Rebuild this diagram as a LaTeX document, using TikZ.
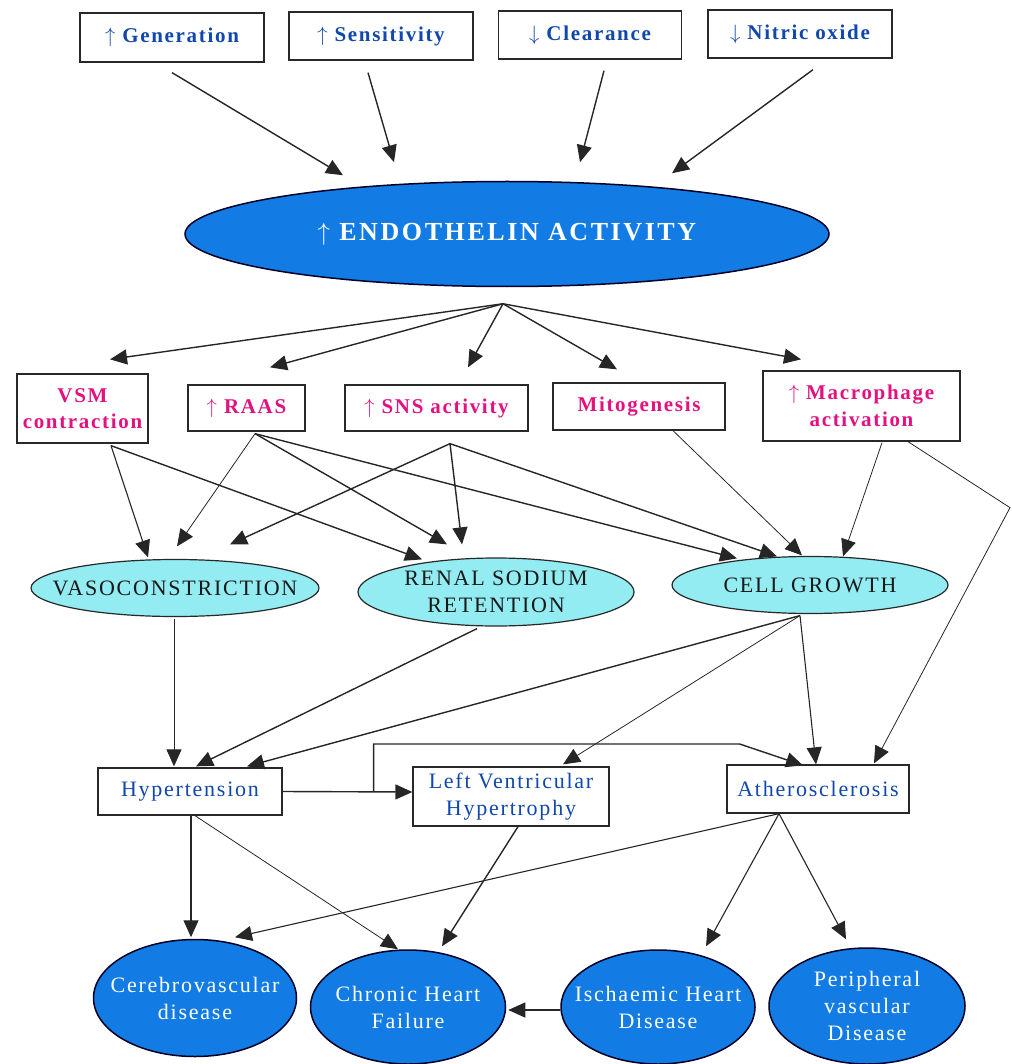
\documentclass[tikz,border=0pt]{standalone}
\usepackage{fontspec}
\setmainfont{Liberation Serif}
\usetikzlibrary{arrows.meta,shapes.geometric}
\definecolor{bluetxt}{RGB}{16,72,172}
\definecolor{pinktxt}{RGB}{226,18,128}
\definecolor{ellblue}{RGB}{18,124,228}
\definecolor{cyanfill}{RGB}{146,236,242}
\definecolor{edge}{RGB}{40,40,40}
\newcommand\myup{\(\uparrow\)}
\newcommand\mydown{\(\downarrow\)}
\begin{document}
\begin{tikzpicture}[x=1pt,y=-1pt,
  box/.style={draw=edge,line width=1.3pt,fill=white,inner sep=0pt,align=center},
  topbox/.style={box,text=bluetxt,font={\fontsize{21}{25}\selectfont\bfseries\addfontfeature{LetterSpace=8}}},
  midbox/.style={box,text=pinktxt,font={\fontsize{21}{26.5}\selectfont\bfseries\addfontfeature{LetterSpace=8}}},
  lowbox/.style={box,text=bluetxt,font={\fontsize{22}{27}\selectfont\addfontfeature{LetterSpace=8}}},
  ellbase/.style={ellipse,inner xsep=-200pt,inner ysep=-60pt,align=center},
  cyanell/.style={ellbase,draw=edge,line width=1.2pt,fill=cyanfill,text=black!90,font={\fontsize{22}{27}\selectfont\addfontfeature{LetterSpace=8}}},
  blueell/.style={ellbase,draw=black!85!blue,line width=1.5pt,fill=ellblue,text=white,font={\fontsize{22}{27}\selectfont\addfontfeature{LetterSpace=8}}},
  arr/.style={-{Triangle[length=17pt,width=15pt]},line width=1.4pt,draw=black!85},
  tarr/.style={arr,line width=0.8pt},
]
\useasboundingbox (0,0) rectangle (1011,1064);

% top boxes
\node[topbox,minimum width=184pt,minimum height=49pt] (gen) at (172,37.5) {\myup\ Generation};
\node[topbox,minimum width=184pt,minimum height=48pt] (sens) at (381,36) {\myup\ Sensitivity};
\node[topbox,minimum width=183pt,minimum height=48pt] (clear) at (590,35) {\mydown\ Clearance};
\node[topbox,minimum width=184pt,minimum height=48pt] (nitric) at (800,34) {\mydown\ Nitric oxide};

% endothelin
\node[blueell,minimum width=644pt,minimum height=105pt,
  font={\fontsize{26}{30}\selectfont\bfseries\addfontfeature{LetterSpace=10}}] (endo) at (507,234) {\myup\ ENDOTHELIN ACTIVITY};

% middle boxes
\node[midbox,minimum width=131pt,minimum height=69pt] (vsm) at (82.5,408.5) {VSM\\contraction};
\node[midbox,minimum width=117pt,minimum height=46pt] (raas) at (246.5,408) {\myup\ RAAS};
\node[midbox,minimum width=183pt,minimum height=46pt] (sns) at (436.5,408) {\myup\ SNS activity};
\node[midbox,minimum width=172pt,minimum height=47pt] (mito) at (639,406.5) {Mitogenesis};
\node[midbox,minimum width=197pt,minimum height=70pt] (macro) at (861.5,406) {\myup\ Macrophage\\activation};

% cyan ellipses
\node[cyanell,minimum width=288pt,minimum height=57pt] (vaso) at (175,588) {VASOCONSTRICTION};
\node[cyanell,minimum width=276pt,minimum height=68pt] (renal) at (496,592) {RENAL SODIUM\\RETENTION};
\node[cyanell,minimum width=276pt,minimum height=57pt] (cell) at (810,585) {CELL GROWTH};

% lower boxes
\node[lowbox,minimum width=184pt,minimum height=47pt] (hyp) at (190,791.5) {Hypertension};
\node[lowbox,minimum width=196pt,minimum height=59pt] (lvh) at (511,796.5) {Left Ventricular\\Hypertrophy};
\node[lowbox,minimum width=182pt,minimum height=48pt] (ather) at (818,789) {Atherosclerosis};

% bottom ellipses
\node[blueell,minimum width=203pt,minimum height=117pt] (cereb) at (195,998) {Cerebrovascular\\disease};
\node[blueell,minimum width=195pt,minimum height=114pt] (chf) at (408,1007) {Chronic Heart\\Failure};
\node[blueell,minimum width=194pt,minimum height=114pt] (isch) at (658,1007) {Ischaemic Heart\\Disease};
\node[blueell,minimum width=196pt,minimum height=116pt] (peri) at (867,1006) {Peripheral\\vascular\\Disease};

% top arrows
\draw[arr] ([yshift=-10pt]gen.south) -- ([xshift=-164pt,yshift=5.5pt]endo.north);
\draw[arr] ([xshift=-13pt,yshift=-12pt]sens.south) -- ([xshift=-113pt,yshift=18.5pt]endo.north);
\draw[arr] ([xshift=14pt,yshift=-11pt]clear.south) -- ([xshift=73pt,yshift=18.5pt]endo.north);
\draw[arr] ([xshift=13pt,yshift=-11pt]nitric.south) -- ([xshift=165pt,yshift=7.5pt]endo.north);

% fan
\coordinate (fan) at ([xshift=-4pt,yshift=-16.5pt]endo.south);
\draw[arr] (fan) -- ([xshift=27.5pt,yshift=14pt]vsm.north);
\draw[arr] (fan) -- ([xshift=23.5pt,yshift=17pt]raas.north);
\draw[arr] (fan) -- ([xshift=31.5pt,yshift=17pt]sns.north);
\draw[arr] (fan) -- ([xshift=-22pt,yshift=13pt]mito.north);
\draw[arr] (fan) -- ([xshift=-60.5pt,yshift=11pt]macro.north);

% middle connectors
\coordinate (vsmo) at ([xshift=28.5pt,yshift=-2pt]vsm.south);
\coordinate (raaso) at ([xshift=8.5pt,yshift=-2pt]raas.south);
\coordinate (snso) at ([xshift=13.5pt,yshift=-12pt]sns.south);
\draw[arr,line width=1.1pt] (vsmo) -- ([xshift=-27pt,yshift=1.5pt]vaso.north);
\draw[arr] (vsmo) -- ([xshift=-74pt,yshift=-2pt]renal.north);
\draw[tarr] (raaso) -- ([xshift=2pt,yshift=12.5pt]vaso.north);
\draw[arr] (raaso) -- ([xshift=-49pt,yshift=13pt]renal.north);
\draw[arr] (raaso) -- ([xshift=-73pt,yshift=-2.5pt]cell.north);
\draw[arr] (snso) -- ([xshift=55pt,yshift=14.5pt]vaso.north);
\draw[arr] (snso) -- ([xshift=-34pt,yshift=13pt]renal.north);
\draw[arr] (snso) -- ([xshift=-33pt,yshift=-0.5pt]cell.north);
\draw[tarr] ([xshift=34pt]mito.south) -- ([xshift=-8pt,yshift=0.5pt]cell.north);
\draw[tarr] ([xshift=20.5pt,yshift=-1pt]macro.south) -- ([xshift=33pt,yshift=-0.5pt]cell.north);
\coordinate (bend) at ([xshift=148.5pt,yshift=-66pt]macro.south);
\draw[tarr] ([xshift=46.5pt]macro.south) -- (bend) -- ([xshift=56pt,yshift=1pt]ather.north);

% to lower boxes
\draw[tarr] ([xshift=-1pt,yshift=-1.5pt]vaso.south) -- ([xshift=-16pt,yshift=1pt]hyp.north);
\draw[arr] ([xshift=-19pt,yshift=-2pt]renal.south) -- ([xshift=6pt,yshift=1pt]hyp.north);
\coordinate (cello) at ([xshift=-10pt,yshift=-1.5pt]cell.south);
\draw[arr] (cello) -- ([xshift=57pt,yshift=1pt]hyp.north);
\draw[tarr] (cello) -- ([xshift=52pt,yshift=2pt]lvh.north);
\draw[arr,line width=1.1pt] (cello) -- ([xshift=-2pt]ather.north);
\draw[arr] (hyp.east) -- ([yshift=4.5pt]lvh.west);
\coordinate (br) at ([xshift=91pt]hyp.east);
\draw[arr] (br) -- ++(0,-47.5) -- ++(366,0) -- ([xshift=-15pt,yshift=-1pt]ather.north);

% to bottom ellipses
\draw[arr,line width=1.1pt] ([xshift=1pt]hyp.south) -- ([xshift=-4pt,yshift=1.5pt]cereb.north);
\draw[tarr] ([xshift=5pt]hyp.south) -- ([xshift=-10pt]chf.north);
\draw[arr] ([xshift=7pt]lvh.south) -- ([xshift=34pt,yshift=3pt]chf.north);
\coordinate (athero) at ([xshift=-39pt]ather.south);
\draw[arr,line width=1.1pt] (athero) -- ([xshift=40pt,yshift=1.5pt]cereb.north);
\draw[arr,line width=1.1pt] (athero) -- ([xshift=48pt,yshift=3pt]isch.north);
\draw[arr,line width=1.1pt] (athero) -- ([xshift=-21pt,yshift=8pt]peri.north);
\draw[arr,line width=1.1pt] ([yshift=-3pt]isch.west) -- ([xshift=2pt,yshift=-3pt]chf.east);
\end{tikzpicture}
\end{document}
